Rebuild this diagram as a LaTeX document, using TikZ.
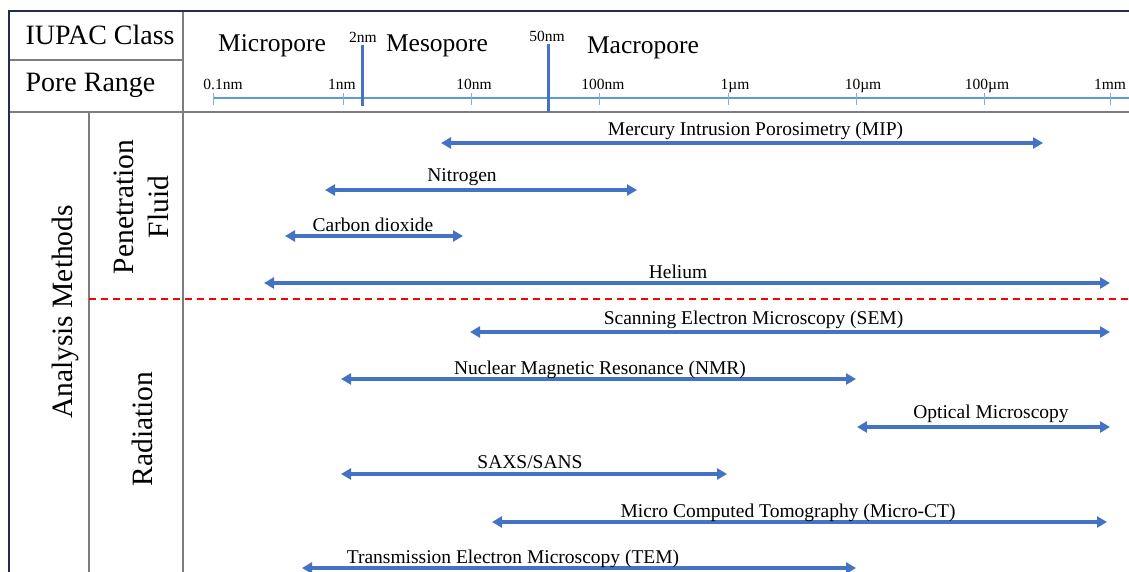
\documentclass[tikz,border=0pt]{standalone}
\usepackage{fontspec}
\setmainfont{Liberation Serif}
\usepackage{tikz}
\usetikzlibrary{arrows.meta}
\definecolor{framenavy}{RGB}{31,46,78}
\definecolor{gridgrey}{RGB}{125,125,125}
\definecolor{axisblue}{RGB}{91,155,213}
\definecolor{tickblue}{RGB}{135,172,224}
\definecolor{rangeblue}{RGB}{68,114,196}

\begin{document}
\begin{tikzpicture}[x=1pt, y=-1pt,
    frameline/.style={framenavy, line width=2pt},
    gridline/.style={gridgrey, line width=1.3pt},
    sepline/.style={red, line width=1.5pt, dash pattern=on 7pt off 5pt},
    axisline/.style={axisblue, line width=2.8pt},
    minortick/.style={tickblue, line width=1pt},
    boundary/.style={rangeblue, line width=3pt},
    sizerange/.style={rangeblue, line width=3.8pt, {Triangle[length=10pt,width=11pt]}-{Triangle[length=10pt,width=11pt]}},
    header/.style={anchor=base west, font=\fontsize{28}{32}\selectfont},
    poreclass/.style={anchor=base, font=\fontsize{25.5}{30}\selectfont},
    ticklabel/.style={anchor=base, font=\fontsize{15.5}{18}\selectfont},
    group/.style={rotate=90, anchor=base, font=\fontsize{29.5}{35}\selectfont},
    method/.style={anchor=base, font=\fontsize{19.5}{22}\selectfont}]
    \useasboundingbox (0,0) rectangle (1129,572);

    % Table frame
    \draw[gridline] (183,11) -- (183,572);
    \draw[gridline] (9,60) -- (183,60);
    \draw[gridline] (9,112) -- (1129,112);
    \draw[gridline] (89,112) -- (89,572);
    \draw[frameline] (9,572) -- (9,11) -- (1129,11);
    \draw[sepline] (89,299) -- (1129,299);

    % Row headers
    \node[header] (iupac) at (22,45) {IUPAC Class};
    \node[header] (porerange) at (22,92) {Pore Range};
    \node[group] (analysis) at (72,312) {Analysis Methods};
    \node[group, align=center, anchor=center] (fluid) at (141.5,207) {Penetration\\Fluid};
    \node[group] (radiation) at (152,429) {Radiation};

    % IUPAC classes
    \node[poreclass] (micro) at (272,52) {Micropore};
    \node[poreclass] (meso) at (437,52) {Mesopore};
    \node[poreclass] (macro) at (643,54) {Macropore};

    % Pore size axis (log scale)
    \draw[axisline] (213,98) -- (1129,98);
    \foreach \x/\lab/\lx [count=\i] in {213/0.1nm/223, 343/1nm/342, 471/10nm/474, 599/100nm/603,
                                       728/1µm/735, 856/10µm/863, 984/100µm/987, 1110/1mm/1110} {
        \draw[minortick] (\x,93) -- (\x,105);
        \node[ticklabel] (tick\i) at (\lx,90) {\lab};
    }

    % Class boundaries
    \draw[boundary] (362.5,45) -- (362.5,106);
    \node[ticklabel] (b2nm) at (363,43) {2nm};
    \draw[boundary] (548,44) -- (548,112);
    \node[ticklabel] (b50nm) at (547,42) {50nm};

    % Penetration fluid
    \coordinate (mipL) at (441,143);  \coordinate (mipR) at (1043,143);
    \draw[sizerange] (mipL) -- (mipR);
    \node[method] (mip) at (755.5,136) {Mercury Intrusion Porosimetry (MIP)};
    \coordinate (ntrL) at (325,190);  \coordinate (ntrR) at (637,190);
    \draw[sizerange] (ntrL) -- (ntrR);
    \node[method] (ntr) at (462,182) {Nitrogen};
    \coordinate (cdoL) at (285,236);  \coordinate (cdoR) at (463,236);
    \draw[sizerange] (cdoL) -- (cdoR);
    \node[method] (cdo) at (373,231) {Carbon dioxide};
    \coordinate (helL) at (264,283);  \coordinate (helR) at (1110,283);
    \draw[sizerange] (helL) -- (helR);
    \node[method] (hel) at (678,278) {Helium};

    % Radiation
    \coordinate (semL) at (470,332);  \coordinate (semR) at (1110,332);
    \draw[sizerange] (semL) -- (semR);
    \node[method] (sem) at (753.5,324) {Scanning Electron Microscopy (SEM)};
    \coordinate (nmrL) at (341,379);  \coordinate (nmrR) at (856,379);
    \draw[sizerange] (nmrL) -- (nmrR);
    \node[method] (nmr) at (600,374) {Nuclear Magnetic Resonance (NMR)};
    \coordinate (optL) at (857,427);  \coordinate (optR) at (1110,427);
    \draw[sizerange] (optL) -- (optR);
    \node[method] (opt) at (991,418) {Optical Microscopy};
    \coordinate (saxL) at (341,474);  \coordinate (saxR) at (727,474);
    \draw[sizerange] (saxL) -- (saxR);
    \node[method] (sax) at (530,468) {SAXS/SANS};
    \coordinate (mctL) at (492,522);  \coordinate (mctR) at (1107,522);
    \draw[sizerange] (mctL) -- (mctR);
    \node[method] (mct) at (788,517) {Micro Computed Tomography (Micro-CT)};
    \coordinate (temL) at (302,568);  \coordinate (temR) at (856,568);
    \draw[sizerange] (temL) -- (temR);
    \node[method] (tem) at (513,563) {Transmission Electron Microscopy (TEM)};
\end{tikzpicture}
\end{document}
